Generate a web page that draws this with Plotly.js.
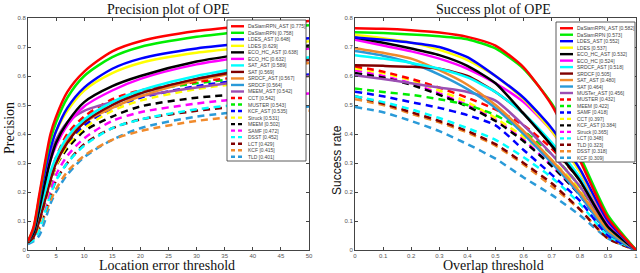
<!DOCTYPE html>
<html><head><meta charset="utf-8">
<script src="https://cdn.plot.ly/plotly-3.0.1.min.js"></script>
<style>html,body{margin:0;padding:0;background:#fff}#c{width:640px;height:273px}</style>
</head><body><div id="c"></div>
<script>
// ---------- DATA ----------
const locX = [0,1,2,3,4,5,7,10,15,20,30,40,50];
const ovX = [0,0.1,0.2,0.3,0.4,0.5,0.6,0.7,0.8,0.9,1.0];

const precNames = ["DaSiamRPN_AST [0.775]","DaSiamRPN [0.758]","LDES_AST [0.648]","LDES [0.629]","ECO_HC_AST [0.638]","ECO_HC [0.632]","SAT_AST [0.589]","SAT [0.569]","SRDCF_AST [0.567]","SRDCF [0.564]","MEEM_AST [0.542]",
  "CCT [0.542]","MUSTER [0.543]","KCF_AST [0.535]","Struck [0.531]","MEEM [0.502]","SAMF [0.472]","DSST [0.452]","LCT [0.429]","KCF [0.415]","TLD [0.401]"];
const prec1  = [0.03,0.08,0.19,0.30,0.40,0.46,0.545,0.615,0.685,0.72,0.755,0.775,0.79];
const prec2  = [0.03,0.075,0.18,0.29,0.38,0.44,0.525,0.60,0.665,0.70,0.735,0.757,0.775];
const prec3  = [0.03,0.07,0.17,0.27,0.35,0.41,0.49,0.56,0.625,0.66,0.695,0.715,0.73];
const prec4  = [0.03,0.075,0.18,0.28,0.36,0.41,0.48,0.55,0.61,0.645,0.68,0.70,0.72];
const prec5  = [0.03,0.06,0.14,0.23,0.31,0.37,0.44,0.51,0.565,0.60,0.65,0.68,0.705];
const prec6  = [0.03,0.065,0.15,0.24,0.31,0.36,0.43,0.495,0.55,0.59,0.64,0.67,0.695];
const prec7  = [0.03,0.06,0.13,0.20,0.27,0.32,0.39,0.45,0.51,0.55,0.60,0.635,0.665];
const prec8  = [0.025,0.045,0.10,0.17,0.24,0.30,0.37,0.44,0.50,0.54,0.59,0.625,0.655];
const prec9  = [0.03,0.055,0.12,0.19,0.26,0.31,0.38,0.44,0.49,0.53,0.585,0.62,0.645];
const prec10 = [0.03,0.06,0.12,0.19,0.26,0.31,0.375,0.44,0.50,0.54,0.59,0.63,0.66];
const prec11 = [0.03,0.07,0.16,0.25,0.33,0.38,0.44,0.48,0.51,0.53,0.56,0.585,0.60];
const prec12 = [0.03,0.05,0.11,0.19,0.26,0.32,0.40,0.46,0.52,0.55,0.58,0.60,0.615];
const prec13 = [0.03,0.05,0.11,0.18,0.25,0.31,0.39,0.45,0.51,0.545,0.575,0.595,0.61];
const prec14 = [0.03,0.05,0.10,0.17,0.24,0.30,0.37,0.43,0.49,0.525,0.565,0.59,0.605];
const prec15 = [0.03,0.045,0.09,0.16,0.23,0.29,0.36,0.42,0.48,0.515,0.555,0.58,0.60];
const prec16 = [0.03,0.045,0.10,0.17,0.23,0.29,0.35,0.41,0.46,0.495,0.525,0.54,0.555];
const prec17 = [0.03,0.045,0.09,0.15,0.21,0.26,0.325,0.385,0.445,0.475,0.505,0.525,0.54];
const prec18 = [0.025,0.035,0.07,0.13,0.19,0.24,0.30,0.36,0.42,0.45,0.485,0.505,0.52];
const prec19 = [0.03,0.04,0.08,0.13,0.19,0.24,0.30,0.365,0.42,0.45,0.48,0.50,0.515];
const prec20 = [0.03,0.04,0.07,0.12,0.17,0.21,0.27,0.325,0.38,0.41,0.445,0.465,0.48];
const prec21 = [0.02,0.03,0.05,0.10,0.16,0.20,0.26,0.32,0.38,0.42,0.46,0.48,0.495];

const succNames = ["DaSiamRPN_AST [0.582]","DaSiamRPN [0.573]","LDES_AST [0.552]","LDES [0.537]","ECO_HC_AST [0.532]","ECO_HC [0.524]","SRDCF_AST [0.518]","SRDCF [0.505]","SAT_AST [0.480]","SAT [0.464]","MUSTer_AST [0.456]",
  "MUSTER [0.432]","MEEM [0.422]","SAMF [0.418]","CCT [0.397]","KCF_AST [0.384]","Struck [0.365]","LCT [0.348]","TLD [0.323]","DSST [0.318]","KCF [0.309]"];
const succ1  = [0.765,0.763,0.758,0.75,0.735,0.705,0.63,0.50,0.31,0.11,0.0];
const succ2  = [0.751,0.748,0.743,0.737,0.727,0.695,0.625,0.505,0.325,0.12,0.0];
const succ3  = [0.733,0.725,0.715,0.70,0.665,0.60,0.525,0.42,0.28,0.10,0.0];
const succ4  = [0.742,0.73,0.715,0.69,0.655,0.60,0.52,0.41,0.27,0.10,0.0];
const succ5  = [0.733,0.715,0.695,0.672,0.635,0.575,0.47,0.36,0.24,0.08,0.0];
const succ6  = [0.725,0.705,0.685,0.66,0.625,0.575,0.51,0.41,0.27,0.09,0.0];
const succ7  = [0.672,0.66,0.645,0.625,0.595,0.545,0.47,0.37,0.25,0.08,0.0];
const succ8  = [0.637,0.635,0.632,0.625,0.60,0.545,0.47,0.36,0.24,0.08,0.0];
const succ9  = [0.696,0.68,0.66,0.62,0.57,0.50,0.41,0.31,0.20,0.07,0.0];
const succ10 = [0.686,0.67,0.645,0.605,0.555,0.49,0.40,0.30,0.19,0.06,0.0];
const succ11 = [0.603,0.59,0.575,0.56,0.545,0.515,0.43,0.33,0.22,0.08,0.0];
const succ12 = [0.633,0.615,0.59,0.56,0.525,0.485,0.43,0.35,0.24,0.08,0.0];
const succ13 = [0.557,0.545,0.535,0.52,0.50,0.465,0.41,0.33,0.22,0.07,0.0];
const succ14 = [0.546,0.53,0.51,0.49,0.465,0.43,0.345,0.26,0.17,0.05,0.0];
const succ15 = [0.626,0.61,0.585,0.55,0.51,0.455,0.39,0.31,0.21,0.07,0.0];
const succ16 = [0.61,0.595,0.57,0.535,0.495,0.445,0.375,0.29,0.19,0.06,0.0];
const succ17 = [0.62,0.60,0.575,0.54,0.50,0.45,0.38,0.29,0.19,0.06,0.0];
const succ18 = [0.53,0.51,0.485,0.455,0.42,0.38,0.32,0.25,0.16,0.05,0.0];
const succ19 = [0.53,0.505,0.475,0.445,0.41,0.365,0.30,0.23,0.14,0.04,0.0];
const succ20 = [0.52,0.50,0.47,0.44,0.405,0.36,0.295,0.22,0.14,0.04,0.0];
const succ21 = [0.493,0.475,0.445,0.41,0.365,0.315,0.25,0.19,0.12,0.04,0.0];

const precTicks = [0,5,10,15,20,25,30,35,40,45,50];
const ovTicks = [0,0.1,0.2,0.3,0.4,0.5,0.6,0.7,0.8,0.9,1];
const yTicks = [0,0.1,0.2,0.3,0.4,0.5,0.6,0.7,0.8];

// ---------- STYLE ----------
const palette = ['#ff0000','#00ee00','#0000ff','#ffff00','#000000','#ff00ff','#00ffff','#800000','#f08a2c','#2a9ad8','#9b4fb3'];
const seriesColor = i => palette[i % 11];
const seriesDash = i => i < 11 ? 'solid' : '7px,5px';

const precVals = [prec1,prec2,prec3,prec4,prec5,prec6,prec7,prec8,prec9,prec10,prec11,prec12,prec13,prec14,prec15,prec16,prec17,prec18,prec19,prec20,prec21];
const succVals = [succ1,succ2,succ3,succ4,succ5,succ6,succ7,succ8,succ9,succ10,succ11,succ12,succ13,succ14,succ15,succ16,succ17,succ18,succ19,succ20,succ21];

const traces = [];
for (let i = precVals.length-1; i >= 0; i--) {
  traces.push({x: locX, y: precVals[i], type:'scatter', mode:'lines', name: precNames[i], xaxis:'x', yaxis:'y',
    line:{color: seriesColor(i), width: 2.5, dash: seriesDash(i), shape:'spline', smoothing:0.8}, showlegend:false, hoverinfo:'skip'});
}
for (let i = succVals.length-1; i >= 0; i--) {
  traces.push({x: ovX, y: succVals[i], type:'scatter', mode:'lines', name: succNames[i], xaxis:'x2', yaxis:'y2',
    line:{color: seriesColor(i), width: 2.5, dash: seriesDash(i), shape:'spline', smoothing:0.6}, showlegend:false, hoverinfo:'skip'});
}

const W = 640, H = 273;
const px = v => v / W, py = v => 1 - v / H;

const axBase = {showgrid:false, zeroline:false, showline:true, linecolor:'#444', linewidth:1, mirror:'allticks',
  ticks:'inside', ticklen:3, tickcolor:'#444', tickfont:{family:'Liberation Sans', size:6, color:'#555'}, fixedrange:true};

const shapes = [], annotations = [];
function legend(names, x0, y0, x1, y1) {
  shapes.push({type:'rect', xref:'paper', yref:'paper', x0:px(x0), x1:px(x1), y0:py(y0), y1:py(y1),
    line:{color:'#333', width:0.8}, fillcolor:'#fff', layer:'above'});
  const step = (y1 - y0 - 4) / names.length;
  names.forEach((n, i) => {
    const yy = y0 + 3 + step * (i + 0.5);
    shapes.push({type:'line', xref:'paper', yref:'paper', x0:px(x0+4), x1:px(x0+17), y0:py(yy), y1:py(yy),
      line:{color: seriesColor(i), width: 2.4, dash: i < 11 ? 'solid' : '4px,3px'}, layer:'above'});
    annotations.push({xref:'paper', yref:'paper', x:px(x0+18.5), y:py(yy), xanchor:'left', yanchor:'middle', showarrow:false,
      text:n, font:{family:'Liberation Sans', size:5, color:'#444'}});
  });
}
legend(precNames, 227, 20, 306, 161);
legend(succNames, 556, 22, 635, 162);

const serif = 'Liberation Serif, Times New Roman, serif';
annotations.push(
  {xref:'paper', yref:'paper', x:px(168), y:py(10), text:'Precision plot of OPE', showarrow:false, xanchor:'center', yanchor:'middle', font:{family:serif, size:14, color:'#111'}},
  {xref:'paper', yref:'paper', x:px(493), y:py(10), text:'Success plot of OPE', showarrow:false, xanchor:'center', yanchor:'middle', font:{family:serif, size:14, color:'#111'}},
  {xref:'paper', yref:'paper', x:px(167), y:py(265), text:'Location error threshold', showarrow:false, xanchor:'center', yanchor:'middle', font:{family:serif, size:14, color:'#111'}},
  {xref:'paper', yref:'paper', x:px(493), y:py(265), text:'Overlap threshold', showarrow:false, xanchor:'center', yanchor:'middle', font:{family:serif, size:14, color:'#111'}},
  {xref:'paper', yref:'paper', x:px(9), y:py(128), text:'Precision', textangle:-90, showarrow:false, xanchor:'center', yanchor:'middle', font:{family:serif, size:14, color:'#111'}},
  {xref:'paper', yref:'paper', x:px(337), y:py(160), text:'Success rate', textangle:-90, showarrow:false, xanchor:'center', yanchor:'middle', font:{family:'Liberation Sans', size:12, color:'#111'}}
);

const layout = {
  width: W, height: H, margin:{l:0,r:0,t:0,b:0}, paper_bgcolor:'#fff', plot_bgcolor:'#fff', showlegend:false,
  xaxis: Object.assign({}, axBase, {domain:[px(28), px(309)], range:[0,50], tickvals: precTicks, anchor:'y'}),
  yaxis: Object.assign({}, axBase, {domain:[1-250/H, 1-18/H], range:[0,0.8], tickvals: yTicks, anchor:'x'}),
  xaxis2: Object.assign({}, axBase, {domain:[px(355), px(636)], range:[0,1], tickvals: ovTicks, anchor:'y2'}),
  yaxis2: Object.assign({}, axBase, {domain:[1-250/H, 1-18/H], range:[0,0.8], tickvals: yTicks, anchor:'x2'}),
  shapes, annotations
};
Plotly.newPlot('c', traces, layout, {staticPlot:true, displayModeBar:false});
</script></body></html>
